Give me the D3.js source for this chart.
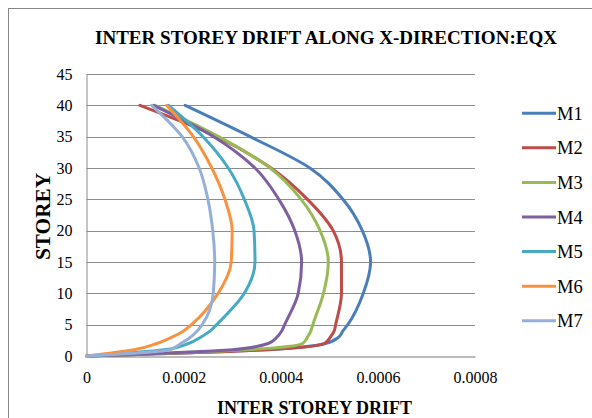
<!DOCTYPE html>
<html>
<head>
<meta charset="utf-8">
<script src="https://cdn.jsdelivr.net/npm/d3@7"></script>
<style>
  html, body { margin: 0; padding: 0; background: #ffffff; }
  svg { display: block; }
  text { font-family: "Liberation Serif", "Times New Roman", serif; fill: #000; }
</style>
</head>
<body>
<svg id="chart" width="592" height="418"></svg>
<script>
// Storey levels at which drift was recorded
const storeys = [0, 1, 2, 3, 4, 5, 10, 15, 20, 25, 30, 35, 40];

// Inter storey drift for each model (EQX load case)
const m1 = [0, 0.000370, 0.000492, 0.000519, 0.000528, 0.000538, 0.000570, 0.000585, 0.000568, 0.000528, 0.000460, 0.000337, 0.000203];
const m2 = [0, 0.000370, 0.000490, 0.000502, 0.000510, 0.000513, 0.000525, 0.000525, 0.000508, 0.000455, 0.000380, 0.000268, 0.000110];
const m3 = [0, 0.000330, 0.000445, 0.000455, 0.000462, 0.000466, 0.000488, 0.000498, 0.000481, 0.000442, 0.000378, 0.000272, 0.000141];
const m4 = [0, 0.000300, 0.000374, 0.000392, 0.000402, 0.000408, 0.000436, 0.000443, 0.000429, 0.000396, 0.000347, 0.000262, 0.000138];
const m5 = [0, 0.000160, 0.000210, 0.000235, 0.000255, 0.000268, 0.000325, 0.000347, 0.000345, 0.000325, 0.000292, 0.000240, 0.000169];
const m6 = [0, 0.000098, 0.000145, 0.000176, 0.000200, 0.000216, 0.000271, 0.000298, 0.000300, 0.000285, 0.000258, 0.000220, 0.000165];
const m7 = [0, 0.000172, 0.000194, 0.000214, 0.000228, 0.000238, 0.000261, 0.000264, 0.000260, 0.000250, 0.000232, 0.000197, 0.000134];

const seriesNames = ["M1", "M2", "M3", "M4", "M5", "M6", "M7"];
const seriesColors = ["#4a7ebb", "#be4b48", "#98b954", "#7d60a0", "#46aac5", "#f69240", "#94afd8"];
const seriesValues = [m1, m2, m3, m4, m5, m6, m7];

const xTicks = [0, 0.0002, 0.0004, 0.0006, 0.0008];
const xTickLabels = ["0", "0.0002", "0.0004", "0.0006", "0.0008"];
const yTicks = [0, 5, 10, 15, 20, 25, 30, 35, 40, 45];

const titleText = "INTER STOREY DRIFT ALONG X-DIRECTION:EQX";
const xTitle = "INTER STOREY DRIFT";
const yTitle = "STOREY";

const serif = "'Liberation Serif', 'Times New Roman', serif";
const svg = d3.select("#chart");

// chart frame
svg.append("rect")
  .attr("x", 8.5).attr("y", 8.5)
  .attr("width", 640).attr("height", 440)
  .attr("fill", "#fff")
  .attr("stroke", "#868686")
  .attr("stroke-width", 1);

const plot = { left: 86.5, right: 475, top: 74, bottom: 356 };

const x = d3.scaleLinear().domain([0, 0.0008]).range([plot.left, plot.right]);
const y = d3.scaleLinear().domain([0, 45]).range([plot.bottom, plot.top]);

// horizontal gridlines
svg.append("g")
  .selectAll("line")
  .data(yTicks.filter(d => d > 0))
  .join("line")
  .attr("x1", plot.left).attr("x2", plot.right)
  .attr("y1", d => Math.round(y(d)) + 0.5)
  .attr("y2", d => Math.round(y(d)) + 0.5)
  .attr("stroke", "#8c8c8c")
  .attr("stroke-width", 1);

// y axis
const yAxis = svg.append("g")
  .attr("transform", `translate(${plot.left},0)`)
  .attr("font-family", serif)
  .call(d3.axisLeft(y).tickValues(yTicks).tickSize(0).tickPadding(14).tickFormat(d3.format("d")));
yAxis.attr("font-family", serif).attr("font-size", 16);
yAxis.select(".domain").attr("stroke", "#8c8c8c");
yAxis.selectAll("text").attr("fill", "#000");

// x axis
const xAxis = svg.append("g")
  .attr("transform", `translate(0,${Math.round(plot.bottom) + 0.5})`)
  .call(d3.axisBottom(x).tickValues(xTicks).tickSize(0).tickPadding(15)
    .tickFormat((d, i) => xTickLabels[i]));
xAxis.attr("font-family", serif).attr("font-size", 16);
xAxis.select(".domain").attr("stroke", "#a6a6a6").attr("stroke-width", 1.5);
xAxis.selectAll("text").attr("fill", "#000");

// smoothed drift profiles
const line = d3.line()
  .x(d => x(d[1]))
  .y(d => y(d[0]))
  .curve(d3.curveMonotoneY);

svg.append("g")
  .selectAll("path")
  .data(seriesValues)
  .join("path")
  .attr("d", vals => line(storeys.map((s, i) => [s, vals[i]])))
  .attr("fill", "none")
  .attr("stroke", (d, i) => seriesColors[i])
  .attr("stroke-width", 3)
  .attr("stroke-linecap", "round")
  .attr("stroke-linejoin", "round");

// legend
const legend = svg.append("g");
const legendRows = legend.selectAll("g")
  .data(seriesNames)
  .join("g")
  .attr("transform", (d, i) => `translate(0,${113.3 + i * 34.57})`);
legendRows.append("line")
  .attr("x1", 522).attr("x2", 556)
  .attr("y1", 0).attr("y2", 0)
  .attr("stroke", (d, i) => seriesColors[i])
  .attr("stroke-width", 3);
legendRows.append("text")
  .attr("x", 557).attr("y", 6.6)
  .style("font-size", "18.5px")
  .text(d => d);

// titles
svg.append("text")
  .attr("x", 326).attr("y", 44)
  .attr("text-anchor", "middle")
  .attr("textLength", 462)
  .attr("lengthAdjust", "spacingAndGlyphs")
  .style("font-size", "19.5px")
  .style("font-weight", "bold")
  .text(titleText);

svg.append("text")
  .attr("x", 314.5).attr("y", 413.5)
  .attr("text-anchor", "middle")
  .attr("textLength", 195)
  .attr("lengthAdjust", "spacingAndGlyphs")
  .style("font-size", "19.5px")
  .style("font-weight", "bold")
  .text(xTitle);

svg.append("text")
  .attr("transform", "translate(50,216.5) rotate(-90)")
  .attr("text-anchor", "middle")
  .attr("textLength", 87)
  .attr("lengthAdjust", "spacingAndGlyphs")
  .style("font-size", "21px")
  .style("font-weight", "bold")
  .text(yTitle);
</script>
</body>
</html>
